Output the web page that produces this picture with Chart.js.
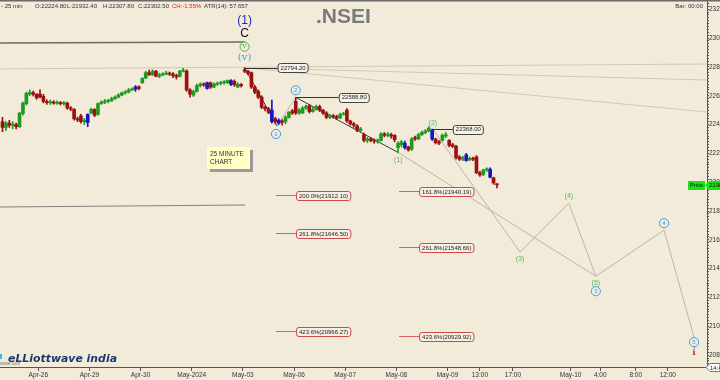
<!DOCTYPE html>
<html>
<head>
<meta charset="utf-8">
<script src="https://cdn.jsdelivr.net/npm/chart.js@4.4.1/dist/chart.umd.min.js"></script>
<style>
  html, body { margin: 0; padding: 0; background: #f2ebda; }
  #wrap { width: 720px; height: 380px; }
</style>
</head>
<body>
<div id="wrap"><canvas id="chart" width="720" height="380"></canvas></div>
<script>
// 25 minute bars, Apr-25 (last 11 bars) to May-09 close
const opens = [
  22420,22380,22410,22395,22400,22385,22475,22545,22612,22622,22610,
  22612,22595,22560,22552,22556,22548,22552,22545,22548,22515,22505,22440,22460,22420,22415,
  22480,22505,22470,22545,22555,22560,22565,22580,22590,22605,22620,22625,22640,22645,22662,
  22690,22722,22760,22745,22770,22735,22745,22750,22755,22750,22740,22735,22770,22770,22640,
  22605,22630,22670,22680,22650,22690,22660,22680,22685,22690,22690,22705,22700,22660,22678,
  22780,22770,22760,22660,22630,22590,22520,22510,22500,22440,22410,22425,22420,22450,22495,
  22560,22480,22480,22515,22530,22490,22505,22525,22500,22480,22450,22460,22455,22445,22470,
  22500,22425,22405,22390,22360,22330,22290,22300,22290,22285,22290,22335,22325,22330,22325,
  22240,22260,22270,22245,22230,22310,22300,22330,22345,22355,22360,22300,22280,22290,22320,
  22290,22260,22250,22175,22160,22190,22155,22165,22175,22065,22055,22085,22090,22030,21985
];
const highs = [
  22450,22420,22430,22420,22410,22485,22555,22625,22640,22632,22615,
  22640,22610,22572,22570,22566,22565,22560,22560,22556,22525,22510,22452,22470,22442,22475,
  22515,22510,22550,22565,22575,22575,22590,22600,22615,22625,22635,22650,22655,22670,22668,
  22725,22770,22778,22780,22776,22756,22760,22770,22765,22760,22750,22776,22790,22780,22650,
  22640,22680,22690,22690,22695,22695,22690,22695,22700,22705,22710,22712,22710,22690,22685,
  22794,22776,22765,22670,22640,22600,22530,22520,22570,22450,22440,22435,22460,22490,22505,
  22589,22510,22525,22535,22540,22520,22535,22535,22505,22490,22470,22470,22465,22480,22485,
  22510,22430,22415,22400,22380,22340,22310,22310,22300,22300,22345,22345,22345,22340,22330,
  22280,22290,22285,22250,22310,22320,22340,22355,22365,22385,22368,22305,22290,22335,22345,
  22295,22270,22255,22185,22180,22200,22175,22175,22185,22075,22090,22100,22100,22035,21990
];
const lows = [
  22350,22360,22380,22370,22370,22380,22465,22535,22600,22598,22575,
  22585,22550,22540,22540,22540,22540,22535,22535,22505,22495,22430,22420,22410,22400,22385,
  22475,22455,22465,22540,22545,22550,22560,22575,22585,22600,22610,22620,22635,22630,22640,
  22685,22718,22740,22740,22730,22725,22738,22745,22740,22725,22715,22730,22765,22630,22590,
  22595,22625,22660,22665,22645,22650,22655,22670,22675,22680,22685,22670,22665,22655,22660,
  22760,22745,22650,22615,22580,22510,22495,22475,22410,22405,22400,22395,22405,22445,22470,
  22470,22470,22475,22505,22480,22485,22500,22490,22470,22440,22440,22445,22435,22440,22465,
  22415,22395,22380,22350,22350,22280,22275,22280,22270,22270,22285,22315,22315,22305,22280,
  22205,22245,22230,22215,22220,22290,22295,22325,22335,22350,22290,22265,22260,22285,22310,
  22245,22240,22160,22150,22150,22145,22150,22150,22060,22040,22045,22075,22030,21985,21960
];
const closes = [
  22380,22410,22395,22400,22385,22479,22548,22616,22622,22610,22585,
  22590,22560,22552,22556,22548,22552,22545,22550,22515,22508,22440,22432,22420,22428,22470,
  22505,22465,22545,22555,22560,22566,22580,22590,22605,22620,22625,22640,22645,22662,22650,
  22720,22760,22745,22770,22735,22745,22750,22755,22750,22740,22730,22770,22775,22640,22610,
  22630,22670,22680,22675,22690,22660,22680,22685,22690,22695,22705,22680,22675,22678,22670,
  22770,22755,22660,22625,22590,22520,22510,22485,22420,22420,22430,22415,22450,22485,22480,
  22480,22500,22515,22525,22490,22505,22525,22500,22480,22450,22460,22455,22445,22470,22475,
  22425,22405,22395,22360,22370,22290,22300,22290,22285,22290,22335,22325,22330,22320,22295,
  22270,22280,22240,22225,22300,22300,22330,22345,22355,22375,22300,22275,22270,22325,22330,
  22255,22250,22170,22160,22170,22150,22165,22160,22065,22050,22085,22090,22035,21995,21982
];
// bars the source platform paints blue
const blueBars = [25, 39, 60, 67, 79, 81, 118, 126, 136, 143];

// x axis: bar index, 15 bars per session, Apr-26 09:15 = 0
const xTickPos = [0, 15, 30, 45, 60, 75, 90, 105, 120, 129.5, 139.2, 156.1, 164.8, 175.2, 184.6];
const xTickLabels = ['Apr-26','Apr-29','Apr-30','May-2024','May-03','May-06','May-07','May-08','May-09',
  '13:00','17:00','May-10','4:00','8:00','12:00'];
const X_MIN = -11.23, X_MAX = 196.1;
const Y_MIN = 20718, Y_MAX = 23264;

// Elliott wave count: peak, (i), (ii), (1), (2), then projected (3) (4) (5)/3, 4, 5
const waveX = [60.5, 70.0, 75.5, 105.6, 115.7, 141.3, 155.6, 163.5, 183.5, 192.3];
const waveY = [22794.2, 22390, 22588.8, 22205, 22368, 21515, 21855, 21348, 21667, 20925];

// fibonacci projections
const fibSetA = { pct: ['200.0%', '261.8%', '423.6%'], value: [21912.10, 21646.50, 20966.27], from: 69.7 };
const fibSetB = { pct: ['161.8%', '261.8%', '423.6%'], value: [21940.19, 21548.66, 20929.92], from: 105.8 };

// long trend lines [x0, y0, x1, y1]
const trendDark = [[-11.23, 22966, 60.6, 22973], [-11.23, 21828, 60.6, 21842]];
const trendLight = [[-11.23, 22786, 196.1, 22820], [60.6, 22794, 196.1, 22709], [60.6, 22794, 196.1, 22487]];

const FONT = '"Liberation Sans", Arial, sans-serif';
const BG = '#f2ebda';

const barX = opens.map((_, n) => n - 10.5);
const candleColors = opens.map((o, n) => {
    if (blueBars.includes(n)) return '#1414c8';
    return closes[n] >= o ? '#1f9a1f' : '#9e0f0f';
});

function segment(x0, y0, x1, y1, color, width) {
    return {
        type: 'line',
        data: [{ x: x0, y: y0 }, { x: x1, y: y1 }],
        borderColor: color,
        borderWidth: width,
        pointRadius: 0,
        fill: false,
        order: 2
    };
}

const lineSets = [];
trendDark.forEach((t, k) => lineSets.push(segment(t[0], t[1], t[2], t[3], k === 0 ? '#6a6a6a' : '#808080', k === 0 ? 1.6 : 1.2)));
trendLight.forEach(t => lineSets.push(segment(t[0], t[1], t[2], t[3], '#cfc8ba', 1)));
[[0, 1], [2, 3]].forEach(([a, b]) => lineSets.push(segment(waveX[a], waveY[a], waveX[b], waveY[b], '#3a3a3a', 1)));
[[1, 2], [4, 5], [5, 6], [6, 7], [7, 8], [8, 9], [3, 7]].forEach(([a, b]) =>
    lineSets.push(segment(waveX[a], waveY[a], waveX[b], waveY[b], '#bdb5a6', 1)));

const bgPlugin = {
    id: 'bg',
    beforeDraw(chart) {
        const ctx = chart.ctx;
        ctx.save();
        ctx.fillStyle = BG;
        ctx.fillRect(0, 0, chart.width, chart.height);
        ctx.restore();
    }
};

function textAt(ctx, str, x, y, font, color, align) {
    ctx.font = font;
    ctx.fillStyle = color;
    ctx.textAlign = align || 'left';
    ctx.textBaseline = 'middle';
    ctx.fillText(str, x, y);
}

function circled(ctx, str, x, y, color) {
    ctx.beginPath();
    ctx.arc(x, y, 4.6, 0, Math.PI * 2);
    ctx.fillStyle = BG;
    ctx.fill();
    ctx.strokeStyle = color;
    ctx.lineWidth = 1;
    ctx.stroke();
    textAt(ctx, str, x, y + 0.5, '6px ' + FONT, color, 'center');
}

function tagBox(ctx, str, x, y, border, fill) {
    ctx.font = '6px ' + FONT;
    const w = ctx.measureText(str).width + 5;
    ctx.beginPath();
    ctx.roundRect(x + 0.5, Math.round(y - 4.5) + 0.5, w, 9, 2.5);
    ctx.fillStyle = fill;
    ctx.fill();
    ctx.strokeStyle = border;
    ctx.lineWidth = 1;
    ctx.stroke();
    textAt(ctx, str, x + 3, y + 0.5, '6px ' + FONT, '#222');
}

const annotPlugin = {
    id: 'annot',
    afterDraw(chart) {
        const ctx = chart.ctx;
        const xs = chart.scales.x, ys = chart.scales.y;
        const px = v => xs.getPixelForValue(v);
        const py = v => ys.getPixelForValue(v);
        ctx.save();

        // top frame
        ctx.fillStyle = '#6b6b6b';
        ctx.fillRect(0, 0, chart.width, 1.5);

        // header
        const hdr = [['- 25 min', 1, '#333'], ['O:22224.80', 35, '#333'], ['L:21932.40', 67, '#333'],
            ['H:22307.80', 103, '#333'], ['C:22302.50', 138, '#333'], ['CH:-1.55%', 172, '#e02020'],
            ['ATR(14): 57.657', 204, '#333']];
        hdr.forEach(h => textAt(ctx, h[0], h[1], 6, '6px ' + FONT, h[2]));
        textAt(ctx, 'Bar: 00:00', 703, 6, '6px ' + FONT, '#333', 'right');
        ctx.font = 'bold 21px ' + FONT;
        ctx.fillStyle = '#7a7a7a';
        ctx.textAlign = 'left';
        ctx.textBaseline = 'alphabetic';
        ctx.fillText('.NSEI', 316, 23);

        // price tags on the count
        const tags = [[0, 33], [2, 43], [4, 20]];
        tags.forEach(([k, dx]) => {
            const x = px(waveX[k]), y = py(waveY[k]);
            ctx.strokeStyle = '#333';
            ctx.lineWidth = 1;
            ctx.beginPath();
            ctx.moveTo(x, Math.round(y) + 0.5);
            ctx.lineTo(x + dx, Math.round(y) + 0.5);
            ctx.stroke();
            tagBox(ctx, waveY[k].toFixed(2), x + dx, y, '#444', '#f7f3ea');
        });

        // fibonacci levels
        [fibSetA, fibSetB].forEach(set => {
            const x0 = px(set.from);
            set.value.forEach((v, k) => {
                const y = Math.round(py(v)) + 0.5;
                ctx.strokeStyle = '#d86060';
                ctx.lineWidth = 1;
                ctx.beginPath();
                ctx.moveTo(x0, y);
                ctx.lineTo(x0 + 20, y);
                ctx.stroke();
                tagBox(ctx, set.pct[k] + '(' + v.toFixed(2) + ')', x0 + 20, y, '#d04848', '#f6f0e4');
            });
        });

        // wave labels
        const pk = [px(waveX[0]), py(waveY[0])];
        textAt(ctx, '(1)', pk[0], pk[1] - 47, '12px ' + FONT, '#1c2cc4', 'center');
        textAt(ctx, 'C', pk[0], pk[1] - 34, '12px ' + FONT, '#111', 'center');
        circled(ctx, '', pk[0], pk[1] - 21, '#50b850');
        textAt(ctx, 'v', pk[0], pk[1] - 21.5, '8px "DejaVu Serif", serif', '#50b850', 'center');
        textAt(ctx, '(v)', pk[0], pk[1] - 10, '10px "DejaVu Serif", serif', '#3a9ff0', 'center');

        const blue = '#3a9ff0', green = '#58b858';
        circled(ctx, '1', px(waveX[1]) - 1, py(waveY[1]) + 8, blue);
        circled(ctx, '2', px(waveX[2]), py(waveY[2]) - 7, blue);
        textAt(ctx, '(1)', px(waveX[3]), py(waveY[3]) + 7, '7px ' + FONT, green, 'center');
        textAt(ctx, '(2)', px(waveX[4]), py(waveY[4]) - 6, '7px ' + FONT, green, 'center');
        textAt(ctx, '(3)', px(waveX[5]), py(waveY[5]) + 7, '7px ' + FONT, green, 'center');
        textAt(ctx, '(4)', px(waveX[6]), py(waveY[6]) - 7, '7px ' + FONT, green, 'center');
        textAt(ctx, '(5)', px(waveX[7]), py(waveY[7]) + 7, '7px ' + FONT, green, 'center');
        circled(ctx, '3', px(waveX[7]), py(waveY[7]) + 15, blue);
        circled(ctx, '4', px(waveX[8]), py(waveY[8]) - 7, blue);
        circled(ctx, '5', px(waveX[9]), py(waveY[9]) + 5, blue);
        ctx.strokeStyle = '#e01010';
        ctx.setLineDash([1, 1]);
        ctx.beginPath();
        ctx.moveTo(px(waveX[9]) + 0.5, py(waveY[9]) + 10);
        ctx.lineTo(px(waveX[9]) + 0.5, py(waveY[9]) + 12);
        ctx.stroke();
        ctx.setLineDash([]);
        textAt(ctx, 'i', px(waveX[9]), py(waveY[9]) + 15.5, 'bold 8px "DejaVu Serif", serif', '#e01010', 'center');

        // note box
        ctx.fillStyle = '#9a9a9a';
        ctx.fillRect(210, 150, 43, 22);
        ctx.fillStyle = '#ffffc6';
        ctx.fillRect(207, 147, 43, 22);
        textAt(ctx, '25 MINUTE', 210, 154, '6.5px ' + FONT, '#333');
        textAt(ctx, 'CHART', 210, 162, '6.5px ' + FONT, '#333');

        // logo
        ctx.fillStyle = '#39b7e0';
        ctx.fillRect(0, 354, 2, 5);
        ctx.font = 'italic bold 11px "DejaVu Sans", sans-serif';
        const lw = ctx.measureText('eLLiottwave india').width;
        ctx.save();
        ctx.translate(8, 362);
        ctx.scale(109 / lw, 1);
        ctx.fillStyle = '#1d3a6e';
        ctx.textAlign = 'left';
        ctx.textBaseline = 'alphabetic';
        ctx.fillText('eLLiottwave india', 0, 0);
        ctx.restore();
        textAt(ctx, 'wave.com', 0, 364, '4.5px ' + FONT, '#777');

        // last price marker
        const last = closes[closes.length - 1];
        const ly = Math.round(py(last));
        ctx.fillStyle = '#14e614';
        ctx.fillRect(688, ly - 4, 17, 9);
        textAt(ctx, 'Price', 696.5, ly + 0.5, '6px ' + FONT, '#111', 'center');
        ctx.beginPath();
        ctx.moveTo(705, ly + 0.5);
        ctx.lineTo(709, ly - 4);
        ctx.lineTo(720, ly - 4);
        ctx.lineTo(720, ly + 5);
        ctx.lineTo(709, ly + 5);
        ctx.closePath();
        ctx.fillStyle = '#14e614';
        ctx.fill();
        textAt(ctx, last.toFixed(0), 709, ly + 0.5, '6px ' + FONT, '#111');

        // current bar time marker
        ctx.beginPath();
        ctx.moveTo(706, 367.5);
        ctx.lineTo(710, 363.5);
        ctx.lineTo(720, 363.5);
        ctx.lineTo(720, 371.5);
        ctx.lineTo(710, 371.5);
        ctx.closePath();
        ctx.fillStyle = '#ffffff';
        ctx.fill();
        ctx.strokeStyle = '#777';
        ctx.stroke();
        textAt(ctx, '14:45', 710, 368, '6px ' + FONT, '#222');

        ctx.restore();
    }
};

const wickData = barX.map((x, n) => ({ x: x, y: [lows[n], highs[n]] }));
const bodyData = barX.map((x, n) => ({ x: x, y: [opens[n], closes[n]] }));

function noPadding(scale) {
    scale.paddingTop = 0;
    scale.paddingBottom = 0;
    scale.paddingLeft = 0;
    scale.paddingRight = 0;
}

new Chart(document.getElementById('chart'), {
    type: 'bar',
    data: {
        datasets: [
            ...lineSets,
            {
                data: wickData,
                backgroundColor: candleColors,
                barThickness: 1,
                grouped: false,
                order: 1
            },
            {
                data: bodyData,
                backgroundColor: candleColors,
                barThickness: 3,
                minBarLength: 1,
                grouped: false,
                order: 0
            }
        ]
    },
    options: {
        responsive: false,
        animation: false,
        devicePixelRatio: 1,
        layout: { padding: 0 },
        plugins: {
            legend: { display: false },
            tooltip: { enabled: false }
        },
        scales: {
            x: {
                type: 'linear',
                min: X_MIN,
                max: X_MAX,
                offset: false,
                grid: { offset: false, drawOnChartArea: false, tickLength: 4, color: '#555' },
                border: { color: '#555' },
                ticks: {
                    autoSkip: false,
                    maxRotation: 0,
                    padding: 0,
                    color: '#333',
                    font: { size: 6.5, family: FONT },
                    callback: (v, i) => xTickLabels[i]
                },
                afterBuildTicks: scale => { scale.ticks = xTickPos.map(v => ({ value: v })); },
                afterFit: scale => { scale.height = 13; noPadding(scale); }
            },
            y: {
                type: 'linear',
                position: 'right',
                min: Y_MIN,
                max: Y_MAX,
                grid: { drawOnChartArea: false, tickLength: 2, color: '#555' },
                border: { color: '#555' },
                ticks: {
                    stepSize: 20,
                    autoSkip: false,
                    maxTicksLimit: 500,
                    padding: 0,
                    color: '#333',
                    font: { size: 6.5, family: FONT },
                    callback: v => (Math.round(v) % 200 === 0 ? String(Math.round(v)) : '')
                },
                afterFit: scale => { scale.width = 13; noPadding(scale); }
            }
        }
    },
    plugins: [bgPlugin, annotPlugin]
});
</script>
</body>
</html>
